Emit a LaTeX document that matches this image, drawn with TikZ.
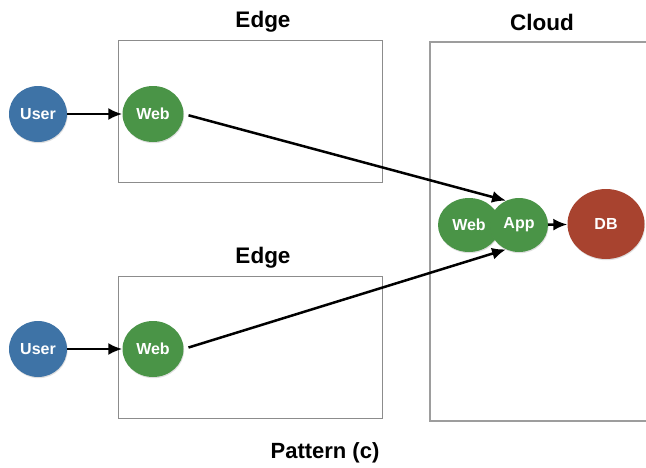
\documentclass[tikz,border=0pt]{standalone}
\usepackage{fontspec}
\setmainfont{Liberation Sans}
\usetikzlibrary{
  shadows,%
  shapes.geometric,%
  arrows.meta,
  positioning
}
\definecolor{userblue}{HTML}{3E73A6}
\definecolor{tiergreen}{HTML}{4A9447}
\definecolor{dbred}{HTML}{A8432F}
\definecolor{boxgray}{HTML}{8C8C8C}
\tikzset{>={Latex[length=14pt,width=12pt]}}
\tikzset{font=\bfseries}
\tikzset{
  svc/.style={ellipse, minimum width=58pt, minimum height=56pt, inner sep=0pt,
    text=white, font=\bfseries\fontsize{16}{18}\selectfont,
    drop shadow={opacity=0.25, shadow xshift=0.6pt, shadow yshift=-1.2pt}},
  region/.style={draw=boxgray, line width=1pt},
  title/.style={font=\bfseries\fontsize{22.5}{26}\selectfont},
  flow/.style={->, line width=2.5pt}
}

\begin{document}
\begin{tikzpicture}[x=1pt,y=-1pt]
  \useasboundingbox[fill=white] (0,0) rectangle (646,467);
  % edge regions
  \foreach \y in {40,276}
    \draw[region] (118,\y) rectangle (382,\y+142);
  \node[title] (edgeA) at (263,22) {Edge};
  \node[title] (edgeB) at (263,258) {Edge};
  % cloud region, cut by the right margin
  \draw[region, line width=2pt, draw=boxgray!85] (646,42) -- (430,42) -- (430,421) -- (646,421);
  \node[title] (cloud) at (542,22) {Cloud};
  % services
  \node[svc, fill=userblue] (userA) at (38,114) {User};
  \node[svc, fill=tiergreen, minimum width=61pt] (webA) at (153,114) {Web};
  \node[svc, fill=userblue] (userB) at (38,349) {User};
  \node[svc, fill=tiergreen, minimum width=61pt] (webB) at (153,349) {Web};
  \node[svc, fill=tiergreen, minimum width=62pt, minimum height=54pt] (webC) at (469,225) {Web};
  \node[svc, fill=tiergreen, minimum height=54pt] (app) at (519,225) {App};
  \node[svc, fill=dbred, minimum width=77pt, minimum height=70pt] (db) at (606,224) {DB};
  % connectors
  \draw[flow] (userA) -- (webA);
  \draw[flow] (userB) -- (webB);
  \draw[flow, shorten <=5pt] (webA.east) -- (app.118);
  \draw[flow, shorten <=5pt] (webB.east) -- (app.242);
  \draw[flow] (app) -- (db);
  \node[title, font=\bfseries\fontsize{22}{26}\selectfont] (caption) at (325,453) {Pattern (c)};
\end{tikzpicture}
\end{document}
